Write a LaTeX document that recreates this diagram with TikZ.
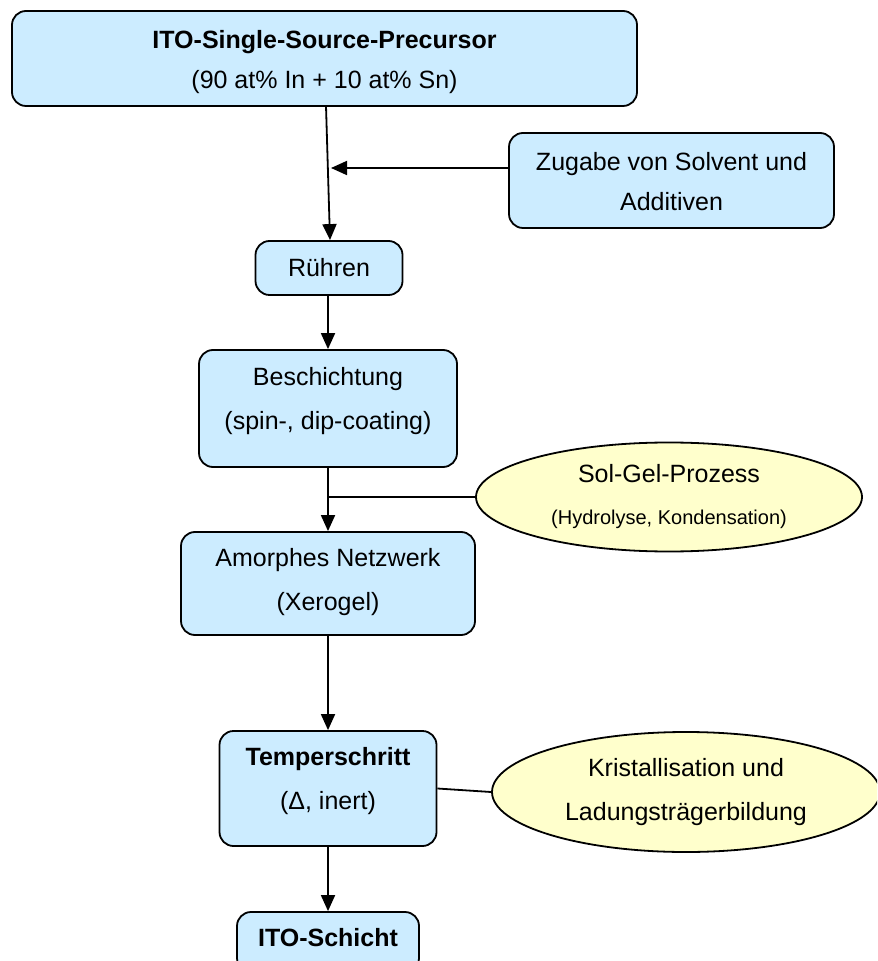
\documentclass[tikz,border=0pt]{standalone}
\usepackage{fontspec}
\setmainfont{Liberation Sans}
\usetikzlibrary{arrows.meta,shapes.geometric}
\definecolor{boxblue}{HTML}{CCECFF}
\definecolor{ovalyellow}{HTML}{FFFFCC}
\begin{document}
\begin{tikzpicture}[x=0.5pt,y=-0.5pt,
  box/.style={draw=black,line width=0.9pt,fill=boxblue,rounded corners=7pt,inner sep=0pt},
  oval/.style={draw=black,line width=0.9pt,fill=ovalyellow,ellipse,inner sep=0pt,align=center,font=\fontsize{12.5}{22}\selectfont},
  txt/.style={align=center,inner sep=0pt,font=\fontsize{12.5}{22}\selectfont},
  txtn/.style={align=center,inner sep=0pt,font=\fontsize{12.5}{20}\selectfont},
  conn/.style={line width=0.9pt},
  arr/.style={line width=0.9pt,-{Triangle[length=8pt,width=7pt]}}]
\useasboundingbox (0,0) rectangle (877,961);
\clip (0,0) rectangle (877,961);
% boxes
\node[box,minimum width=312.5pt,minimum height=47.5pt] (top) at (324.5,58.5) {};
\node[txtn] (topT) at (324.5,62) {\textbf{ITO-Single-Source-Precursor}\\(90 at\% In + 10 at\% Sn)};
\node[box,minimum width=162.5pt,minimum height=47.5pt] (zug) at (671.5,180.5) {};
\node[txtn] (zugT) at (671.5,182) {Zugabe von Solvent und\\Additiven};
\node[box,minimum width=73.5pt,minimum height=27pt] (ruh) at (329,268) {};
\node[txt] (ruhT) at (329,268) {Rühren};
\node[box,minimum width=129pt,minimum height=58.5pt] (besch) at (328,408.5) {};
\node[txt] (beschT) at (328,401.5) {Beschichtung\\(spin-, dip-coating)};
\node[box,minimum width=147pt,minimum height=51.5pt] (amor) at (328,583.5) {};
\node[txt] (amorT) at (328,582.5) {Amorphes Netzwerk\\(Xerogel)};
\node[box,minimum width=108.5pt,minimum height=57.5pt] (temp) at (328,788.5) {};
\node[txt] (tempT) at (328,781.5) {\textbf{Temperschritt}\\(Δ, inert)};
\node[box,minimum width=91pt,minimum height=30pt] (ito) at (328,942) {};
\node[txt] (itoT) at (328,938) {\textbf{ITO-Schicht}};
% ovals
\node[oval,minimum width=193pt,minimum height=54.5pt] (sol) at (669,497) {Sol-Gel-Prozess\\[-1pt]{\fontsize{10}{20}\selectfont (Hydrolyse, Kondensation)}};
\node[oval,minimum width=194pt,minimum height=60pt] (kris) at (686,792) {Kristallisation und\\Ladungsträgerbildung};
% connectors
\coordinate (a1) at (326,106);
\coordinate (j1) at (331,168);
\draw[arr] (a1) -- (ruh.north -| 330,0);
\draw[arr] (zug.west |- j1) -- (j1);
\draw[arr] (ruh.south -| besch.north) -- (besch.north);
\coordinate (j2) at (328,497);
\draw[arr] (besch.south) -- (amor.north);
\draw[conn] (j2) -- (sol.west);
\draw[arr] (amor.south) -- (temp.north);
\draw[conn] (temp.east) -- (kris.west);
\draw[arr] (temp.south) -- (ito.north);
\end{tikzpicture}
\end{document}
